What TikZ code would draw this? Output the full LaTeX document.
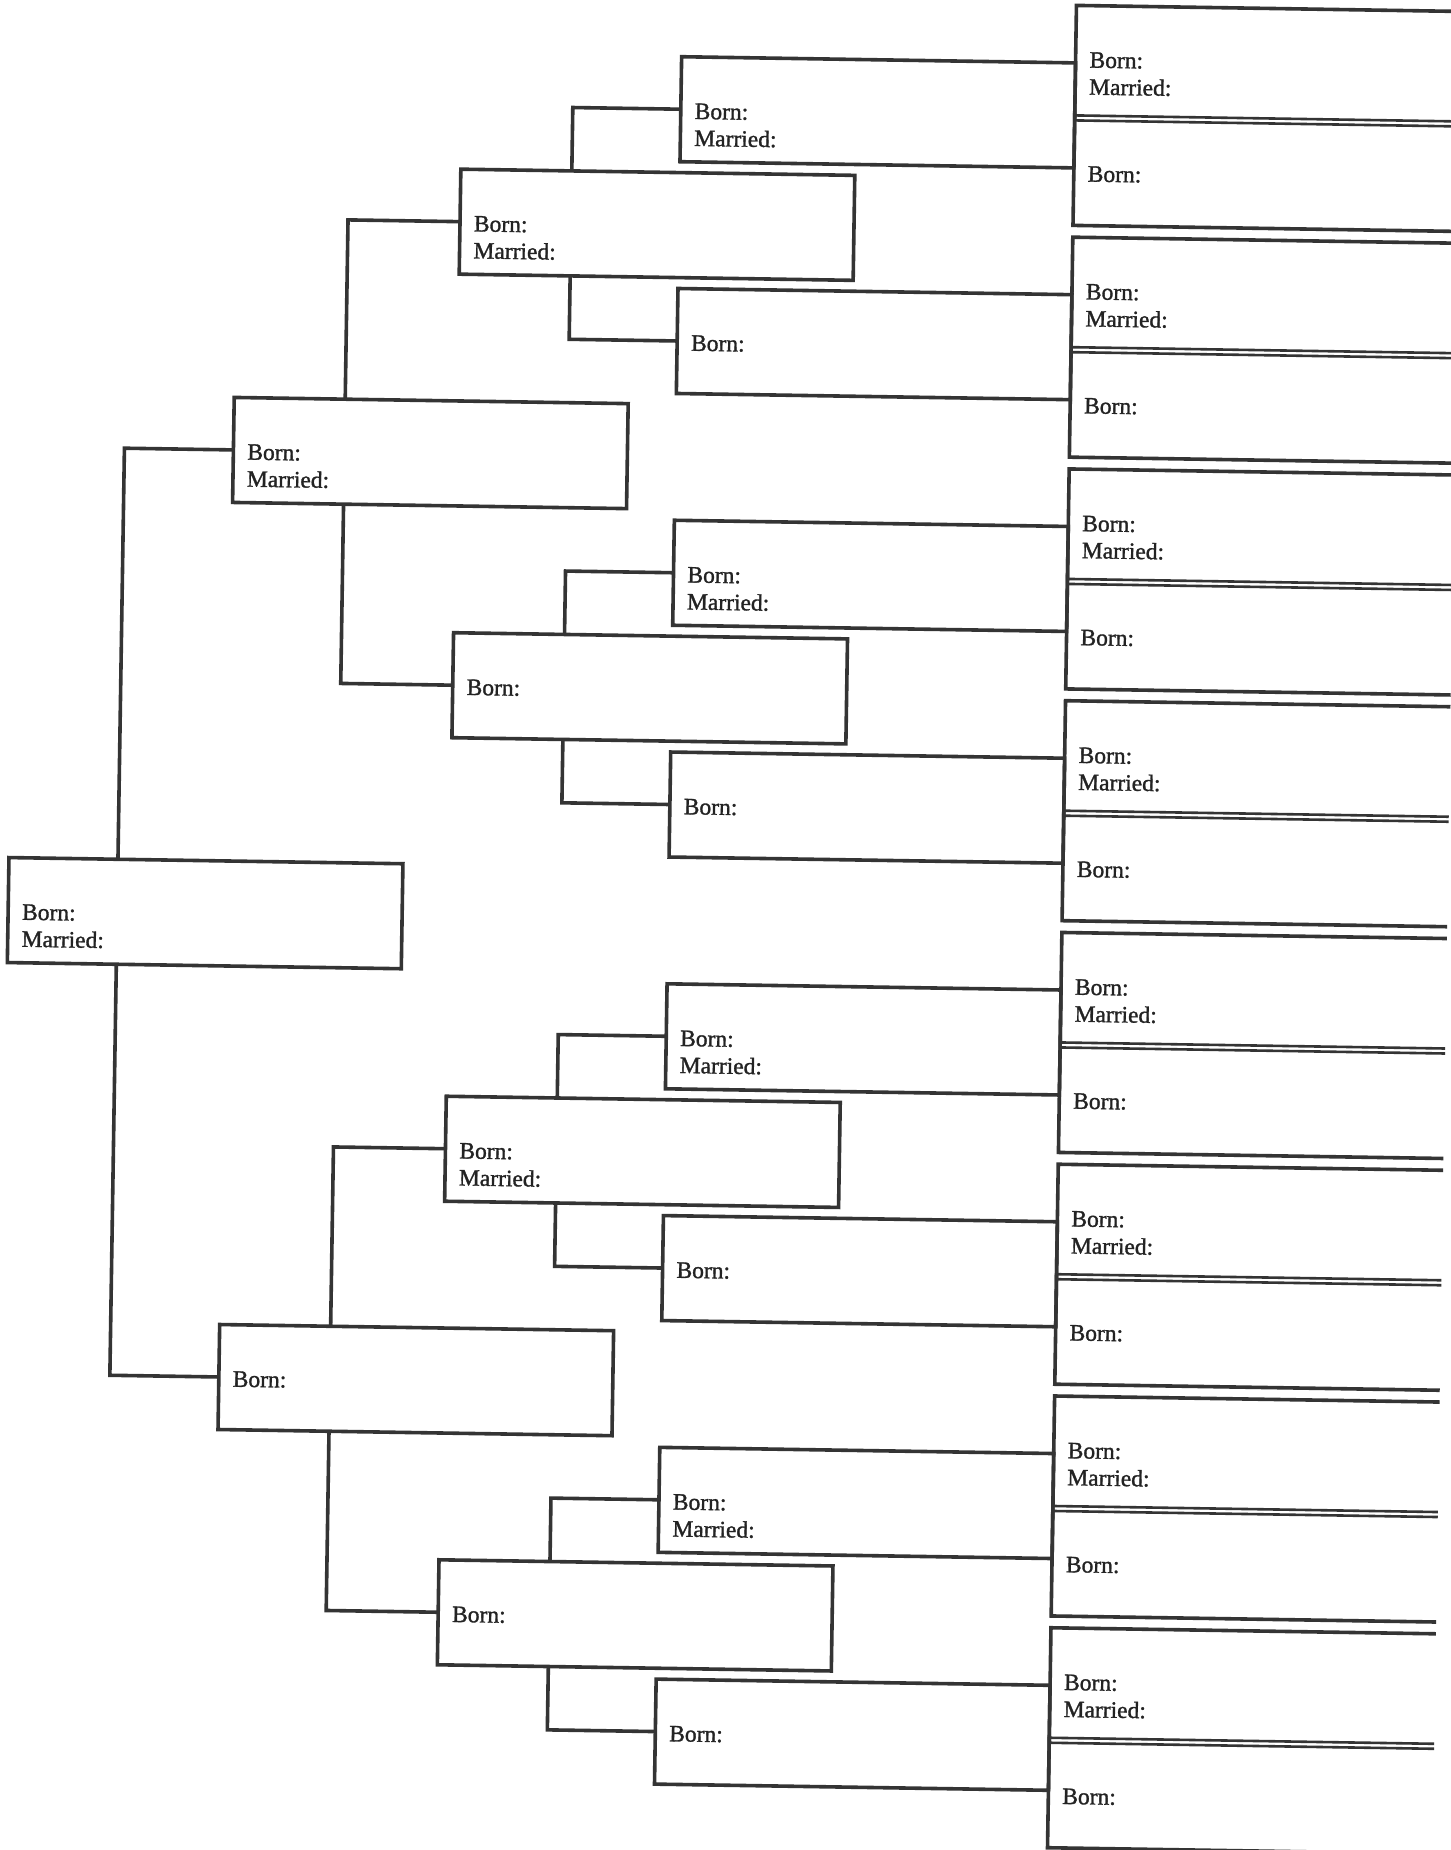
\documentclass[tikz,border=0pt]{standalone}
\usepackage{fontspec}
\newfontfamily\labfontfam[FakeBold=1.3]{Liberation Serif}
\definecolor{inkc}{RGB}{52,52,52}
\definecolor{txtc}{RGB}{35,35,35}
\newcommand{\labfont}{\labfontfam\fontsize{23.5}{27}\selectfont}
\begin{document}
\begin{tikzpicture}[x=1pt,y=-1pt,
  ln/.style={line width=3.6pt, draw=inkc},
  dl/.style={line width=2.6pt, draw=inkc},
  famBox/.style={ln, rectangle, minimum width=394pt, minimum height=105pt, inner sep=0pt, outer sep=0pt, anchor=west},
  halfBox/.style={rectangle, draw=none, minimum width=385pt, inner sep=0pt, outer sep=0pt, anchor=north west},
  lab/.style={anchor=base west, inner sep=0pt, outer sep=0pt, font=\labfont, text=txtc},
  conn/.style={ln}]
\useasboundingbox (0,0) rectangle (1451,1850);
\clip (0,0) rectangle (1451,1850);
\fill[white] (0,0) rectangle (1451,1850);
\begin{scope}[rotate around={-0.9:(725,925)}, transform shape]
  % generation 5 (pairs) and generation 4
  \foreach \k in {0,...,7}{
    \pgfmathsetmacro{\T}{231.8*\k}
    \node[halfBox, minimum height=110pt] (g5u-\k) at (1062,\T) {};
    \node[halfBox, minimum height=105pt] (g5l-\k) at (1062,\T+115) {};
    \draw[ln] (g5u-\k.north east) -- (g5u-\k.north west) -- (g5l-\k.south west) -- (g5l-\k.south east);
    \draw[dl] (g5u-\k.south west) -- (g5u-\k.south east);
    \draw[dl] (g5l-\k.north west) -- (g5l-\k.north east);
    \node[lab] (g5u-\k-b) at ([xshift=14pt,yshift=-62pt]g5u-\k.north west) {Born:};
    \node[lab] (g5u-\k-m) at ([xshift=14pt,yshift=-89pt]g5u-\k.north west) {Married:};
    \node[lab] (g5l-\k-b) at ([xshift=14pt,yshift=-61pt]g5l-\k.north west) {Born:};
    \node[famBox] (g4-\k) at (668,\T+110) {};
    \node[lab] (g4-\k-b) at ([xshift=14pt,yshift=-62pt]g4-\k.north west) {Born:};
  }
  \foreach \k in {0,2,4,6}{
    \node[lab] (g4-\k-m) at ([xshift=14pt,yshift=-89pt]g4-\k.north west) {Married:};
  }
  % generation 3
  \foreach \j in {0,...,3}{
    \pgfmathtruncatemacro{\a}{2*\j}
    \pgfmathtruncatemacro{\b}{2*\j+1}
    \node[famBox] (g3-\j) at (449,463.6*\j+225.9) {};
    \node[lab] (g3-\j-b) at ([xshift=14pt,yshift=-62pt]g3-\j.north west) {Born:};
    \draw[conn] ([xshift=111pt]g3-\j.north west) |- (g4-\a.west);
    \draw[conn] ([xshift=111pt]g3-\j.south west) |- (g4-\b.west);
  }
  \foreach \j in {0,2}{
    \node[lab] (g3-\j-m) at ([xshift=14pt,yshift=-89pt]g3-\j.north west) {Married:};
  }
  % generation 2
  \foreach \i in {0,1}{
    \pgfmathtruncatemacro{\a}{2*\i}
    \pgfmathtruncatemacro{\b}{2*\i+1}
    \node[famBox] (g2-\i) at (226,927.2*\i+457.7) {};
    \node[lab] (g2-\i-b) at ([xshift=14pt,yshift=-62pt]g2-\i.north west) {Born:};
    \draw[conn] ([xshift=111pt]g2-\i.north west) |- (g3-\a.west);
    \draw[conn] ([xshift=111pt]g2-\i.south west) |- (g3-\b.west);
  }
  \node[lab] (g2-0-m) at ([xshift=14pt,yshift=-89pt]g2-0.north west) {Married:};
  % generation 1
  \node[famBox] (g1) at (8,921.3) {};
  \node[lab] (g1-b) at ([xshift=14pt,yshift=-62pt]g1.north west) {Born:};
  \node[lab] (g1-m) at ([xshift=14pt,yshift=-89pt]g1.north west) {Married:};
  \draw[conn] ([xshift=109pt]g1.north west) |- (g2-0.west);
  \draw[conn] ([xshift=109pt]g1.south west) |- (g2-1.west);
\end{scope}
\end{tikzpicture}
\end{document}
